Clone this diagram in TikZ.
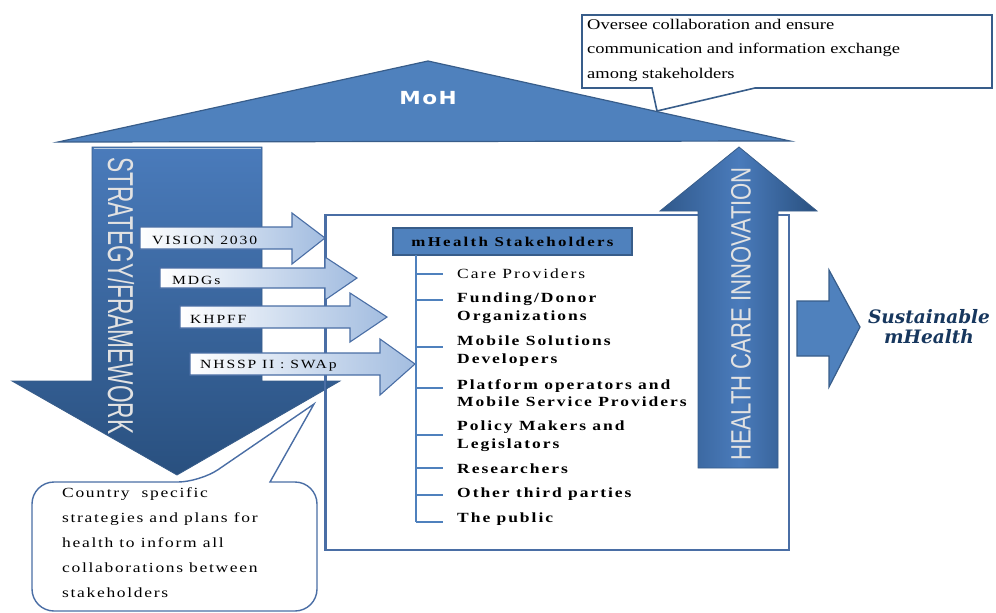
\documentclass[tikz,border=0pt]{standalone}
\usepackage{fontspec}
\setmainfont{Liberation Serif}[FakeStretch=1.25]
\newfontfamily\lsans{Liberation Sans}
\newfontfamily\mohfont[FakeStretch=1.2,LetterSpace=8]{DejaVu Sans Bold}
\newfontfamily\djserif{DejaVu Serif}
\definecolor{roofblue}{HTML}{4F81BD}
\definecolor{roofline}{HTML}{385D8A}
\definecolor{deepblue}{HTML}{29507F}
\definecolor{midblue}{HTML}{4A7BBB}
\definecolor{palearrow}{HTML}{A3BDE0}
\definecolor{arrowline}{HTML}{4A6EA5}
\definecolor{navy}{HTML}{17375E}
\definecolor{paletext}{HTML}{E2E2E2}
\tikzset{
  roofshape/.style={draw=roofline, line width=1.2pt, fill=roofblue},
  calloutshape/.style={draw=roofline, line width=1.6pt, fill=white},
  calloutrnd/.style={draw=arrowline, line width=1.4pt, fill=white},
  lightarrow/.style={draw=arrowline, line width=1.1pt, left color=white, right color=palearrow},
  bigdown/.style={draw=roofline, line width=0.8pt, top color=midblue, bottom color=deepblue},
  bigup/.style={draw=roofline, line width=0.8pt, left color=deepblue!80!midblue, right color=deepblue, middle color=midblue},
  sideshape/.style={draw=roofline, line width=1.2pt, fill=roofblue},
  boxline/.style={draw=arrowline, line width=1.8pt},
  treeline/.style={draw=roofblue, line width=1.8pt},
  hdr/.style={draw=roofline, line width=1.2pt, fill=roofblue, inner sep=0pt},
  arrtext/.style={anchor=west, inner sep=0pt, font=\fontsize{12.5}{14}\selectfont\addfontfeatures{LetterSpace=15}},
  itemtext/.style={anchor=west, inner sep=0pt, align=left, font=\fontsize{14}{17.5}\selectfont\bfseries\addfontfeatures{LetterSpace=14}},
  notetext/.style={anchor=west, inner sep=0pt, align=left},
}
\begin{document}
\begin{tikzpicture}[x=1pt,y=-1pt]
\useasboundingbox (0,0) rectangle (996,613);

% roof
\path[roofshape] (58,142) -- (428,61) -- (790,141) -- cycle;
\node[text=white, inner sep=0pt, font=\mohfont\fontsize{18}{20}\selectfont] (moh) at (428,98) {MoH};

% top callout
\path[calloutshape] (582,15) -- (992,15) -- (992,88) -- (755,88) -- (657,111) -- (652,88) -- (582,88) -- cycle;
\node[notetext, font=\fontsize{14.8}{24.5}\selectfont] (oversee) at (587,50)
  {Oversee collaboration and ensure\\communication and information exchange\\among stakeholders};

% stakeholder box
\node[boxline, minimum width=463, minimum height=335, inner sep=0pt] (sbox) at (557.5,382.5) {};

% strategy arrow
\path[bigdown] (92,147) -- (262,147) -- (262,381) -- (340,381) -- (177,475) -- (12,381) -- (92,381) -- cycle;
\draw[white!60!roofblue, line width=1.5pt] (93.5,148.5) -- (260.5,148.5);
\node[rotate=-90, inner sep=0pt, text=paletext, font=\lsans\fontsize{36}{36}\selectfont] (strat) at (121,296)
  {\scalebox{0.63}[1]{STRATEGY/FRAMEWORK}};

% box left border redrawn over the strategy head
\draw[boxline] (sbox.north west) -- (sbox.south west);

% light arrows
\path[lightarrow] (140,227) -- (292,227) -- (292,213) -- (325,238) -- (292,264) -- (292,249) -- (140,249) -- cycle;
\node[arrtext] (vision) at (152,240) {VISION 2030};
\path[lightarrow] (160,268) -- (325,268) -- (325,257) -- (357,278) -- (325,300) -- (325,288) -- (160,288) -- cycle;
\node[arrtext] (mdgs) at (172,280) {MDGs};
\path[lightarrow] (180,306) -- (350,306) -- (350,293) -- (387,317) -- (350,342) -- (350,328) -- (180,328) -- cycle;
\node[arrtext] (khpff) at (190,319) {KHPFF};
\path[lightarrow] (190,353) -- (380,353) -- (380,339) -- (415,364) -- (380,395) -- (380,375) -- (190,375) -- cycle;
\node[arrtext] (nhssp) at (200,366) {NHSSP II : SWAp};

% header and tree
\node[hdr, minimum width=239, minimum height=27, font=\fontsize{13.5}{14}\selectfont\bfseries\addfontfeatures{LetterSpace=17}] (mh) at (512.5,241.5) {mHealth Stakeholders};
\coordinate (trunktop) at (416,255);
\coordinate (trunkbot) at (416,522);
\draw[treeline] (trunktop) -- (trunkbot);
\foreach \y in {274,300,347,388,435,468,495,522}{
  \draw[treeline] (416,\y) -- (443,\y);
}
\node[itemtext, font=\fontsize{14}{17.5}\selectfont\addfontfeatures{LetterSpace=14}] (i1) at (457,274) {Care Providers};
\node[itemtext] (i2) at (457,308) {Funding/Donor\\Organizations};
\node[itemtext] (i3) at (457,351) {Mobile Solutions\\Developers};
\node[itemtext] (i4) at (457,393) {Platform operators and\\Mobile Service Providers};
\node[itemtext] (i5) at (457,436) {Policy Makers and\\Legislators};
\node[itemtext] (i6) at (457,469) {Researchers};
\node[itemtext] (i7) at (457,494) {Other third parties};
\node[itemtext] (i8) at (457,519) {The public};

% health care innovation arrow
\path[bigup] (698,468) -- (778,468) -- (778,211) -- (817,211) -- (739,147) -- (660,211) -- (698,211) -- cycle;
\node[rotate=90, inner sep=0pt, text=paletext, font=\lsans\fontsize{28}{28}\selectfont] (hci) at (741,314)
  {\scalebox{0.79}[1]{HEALTH CARE INNOVATION}};

% sustainable arrow
\path[sideshape] (797,301) -- (829,301) -- (829,270) -- (860,327) -- (829,387) -- (829,356) -- (797,356) -- cycle;
\node[inner sep=0pt, align=center, text=navy, font=\djserif\fontsize{18.5}{20}\selectfont\bfseries\itshape] (sust) at (929,327)
  {Sustainable\\mHealth};

% bottom callout
\path[calloutrnd] (200,482) -- (314,404) -- (270,482)
  [rounded corners=22pt] -- (317,482) -- (317,611) -- (32,611) -- (32,482) -- cycle;
\node[notetext, font=\fontsize{14}{25}\selectfont\addfontfeatures{LetterSpace=12}] (country) at (62,543)
  {Country\ \ specific\\strategies and plans for\\health to inform all\\collaborations between\\stakeholders};
\end{tikzpicture}
\end{document}
